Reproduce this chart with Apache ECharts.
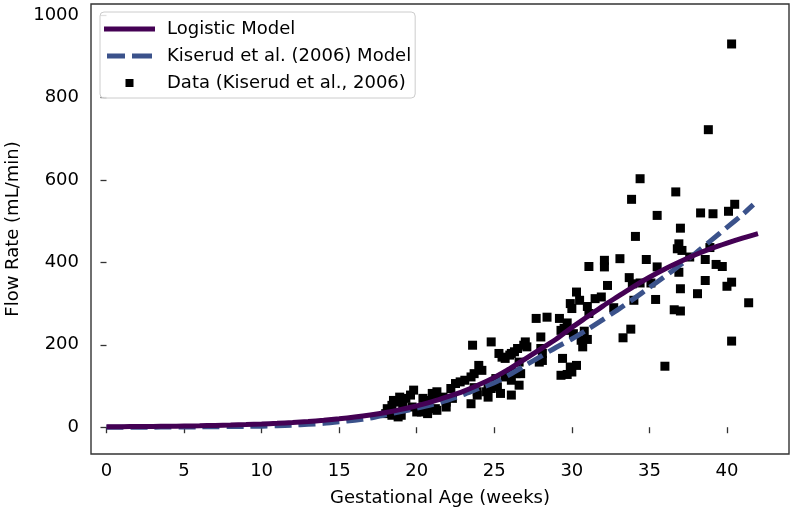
<!DOCTYPE html>
<html><head><meta charset="utf-8">
<script src="https://cdn.jsdelivr.net/npm/echarts@6/dist/echarts.min.js"></script>
<style>html,body{margin:0;padding:0;background:#fff}#c{width:791px;height:514px}</style>
</head><body><div id="c"></div>
<script>
const xTicks = [0, 5, 10, 15, 20, 25, 30, 35, 40];
const yTicks = [0, 200, 400, 600, 800, 1000];

const logisticWeeks = [0,1,2,3,4,5,6,7,8,9,10,11,12,13,14,15,16,17,18,19,20,21,22,23,24,25,26,27,28,29,30,31,32,33,34,35,36,37,38,39,40,41,42];
const logisticFlow = [1,1.3,1.6,1.9,2.3,2.9,3.5,4.3,5.2,6.3,7.7,9.4,11.4,13.8,16.8,20.4,24.7,29.8,35.9,43.3,51.8,62,74,87,103,121,142,166,190,214,242,268,294,318,342,364,384,402,419,434,447,459,470];

const kiserudWeeks = [0,1,2,3,4,5,6,7,8,9,10,11,12,13,14,15,16,17,18,19,20,21,22,23,24,25,26,27,28,29,30,31,32,33,34,35,36,37,38,39,40,41,41.7];
const kiserudFlow = [0,0,0.1,0.2,0.3,0.5,0.8,1.2,1.6,2,2.5,3.5,5,7,9.5,13,17,22,30,38,46,55,66,79,94,108,128,150,172,194,214,237,261,286,312,339,366,394,423,454,485,516,540];

const dataWeeks = [18.0,18.1,18.4,18.5,18.8,18.8,18.9,19.0,19.1,19.3,19.6,19.7,19.8,20.0,20.4,20.6,20.7,20.7,20.7,18.4,18.9,20.3,
  21.0,21.3,21.2,21.7,21.9,21.9,21.2,21.3,22.2,22.3,22.5,22.8,23.1,23.5,23.5,23.6,23.7,23.7,23.9,23.9,24.0,24.2,24.5,24.6,24.6,24.8,24.8,
  25.1,25.2,25.4,25.3,25.5,25.7,25.7,26.0,26.1,26.1,26.1,26.1,26.3,26.4,26.5,26.6,26.6,26.7,26.9,27.0,27.1,
  27.7,27.9,28.0,28.0,28.1,28.1,28.4,29.2,29.3,29.3,29.4,29.5,29.7,29.7,29.8,29.9,29.9,30.0,30.0,30.1,30.3,30.3,30.5,30.6,30.7,30.8,31.0,31.0,31.1,31.1,31.5,31.9,
  32.1,32.1,32.3,32.7,33.1,33.3,33.7,33.8,33.85,33.9,34.0,34.1,34.4,34.4,34.8,35.1,35.4,35.5,35.5,36.0,36.6,36.7,36.8,36.9,36.9,37.0,37.0,37.0,37.1,37.6,
  38.1,38.3,38.6,38.6,38.8,38.9,39.1,39.3,39.7,40.0,40.1,40.3,40.3,40.3,40.5,41.4];
const dataFlow = [33,45,53,65,25,61,73,29,57,70,78,49,90,37,70,53,65,49,33,29,33,37,
  82,86,75,73,49,61,45,41,94,70,106,110,114,57,122,199,130,96,78,86,150,138,86,73,98,94,207,
  118,98,82,179,170,122,167,175,114,134,179,78,183,130,191,102,158,130,199,207,195,
  264,158,191,219,162,179,267,264,126,235,167,240,253,128,235,146,300,134,288,227,150,328,308,211,195,233,213,293,276,390,312,316,
  405,389,344,290,409,217,363,238,553,348,308,463,603,350,407,350,310,514,389,148,285,571,433,445,376,483,336,282,429,413,
  324,520,407,356,722,436,518,395,390,342,524,930,352,209,541,302];

const pairs = (xs, ys) => xs.map((x, i) => [x, ys[i]]);
const FONT = 'DejaVu Sans';
const DOT = 'M0,0h0.01v0.01h-0.01z M50.99,8.99h0.01v0.01h-0.01z ';
const ICON_SOLID = 'path://' + DOT + 'M0,2h51v5h-51z';
const ICON_DASH = 'path://' + DOT + 'M3,2h18v5h-18z M28,2h20v5h-20z';
const ICON_SQUARE = 'path://' + DOT + 'M21.5,0.5h8v8h-8z';

const chart = echarts.init(document.getElementById('c'), null, {renderer: 'canvas'});
chart.setOption({
  animation: false,
  backgroundColor: '#fff',
  grid: {left: 91, right: 2, top: 4, bottom: 60, outerBoundsMode: 'none', containLabel: false,
    show: true, borderColor: '#333', borderWidth: 1.4, backgroundColor: 'transparent'},
  legend: {
    orient: 'vertical', left: 100, top: 12,
    padding: [7, 4, 5, 4], itemGap: 7, itemWidth: 51, itemHeight: 9,
    backgroundColor: 'rgba(255,255,255,0.85)', borderColor: '#cccccc', borderWidth: 1, borderRadius: 4,
    itemStyle: {borderWidth: 0},
    textStyle: {fontFamily: FONT, fontSize: 18, color: '#000', lineHeight: 20, padding: [0, 0, 0, 7]},
    data: [
      {name: 'Logistic Model', icon: ICON_SOLID},
      {name: 'Kiserud et al. (2006) Model', icon: ICON_DASH},
      {name: 'Data (Kiserud et al., 2006)', icon: ICON_SQUARE}
    ]
  },
  xAxis: {
    type: 'value', min: -1, max: 44,
    name: 'Gestational Age (weeks)', nameLocation: 'middle', nameGap: 35,
    nameTextStyle: {fontFamily: FONT, fontSize: 18, color: '#000'},
    axisLine: {show: false},
    splitLine: {show: false},
    axisTick: {show: true, length: 6, customValues: xTicks, lineStyle: {color: '#333', width: 1.3}},
    axisLabel: {customValues: xTicks, fontFamily: FONT, fontSize: 18, color: '#000', margin: 8}
  },
  yAxis: {
    type: 'value', min: -65, max: 1027,
    name: 'Flow Rate (mL/min)', nameLocation: 'middle', nameGap: 60, nameRotate: 90,
    nameTextStyle: {fontFamily: FONT, fontSize: 18, color: '#000'},
    axisLine: {show: false},
    splitLine: {show: false},
    axisTick: {show: true, length: 6, customValues: yTicks, lineStyle: {color: '#333', width: 1.3}},
    axisLabel: {customValues: yTicks, formatter: v => String(v), fontFamily: FONT, fontSize: 18, color: '#000', margin: 12}
  },
  series: [
    {
      name: 'Data (Kiserud et al., 2006)', type: 'scatter', symbol: 'rect', symbolSize: 9,
      itemStyle: {color: '#000', opacity: 1}, z: 2,
      data: pairs(dataWeeks, dataFlow)
    },
    {
      name: 'Kiserud et al. (2006) Model', type: 'line', symbol: 'none', smooth: 0.3,
      lineStyle: {color: '#3b528b', width: 5, type: [17, 7]}, itemStyle: {color: '#3b528b'}, z: 3,
      data: pairs(kiserudWeeks, kiserudFlow)
    },
    {
      name: 'Logistic Model', type: 'line', symbol: 'none', smooth: 0.3,
      lineStyle: {color: '#440154', width: 5}, itemStyle: {color: '#440154'}, z: 4,
      data: pairs(logisticWeeks, logisticFlow)
    }
  ]
});
</script></body></html>
